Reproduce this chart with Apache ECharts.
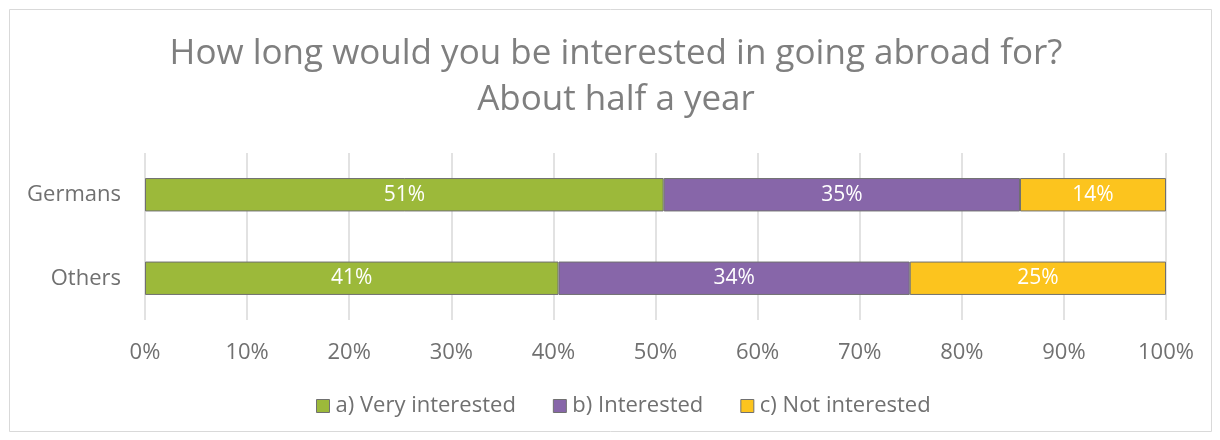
<!DOCTYPE html>
<html>
<head>
<meta charset="utf-8">
<title>How long would you be interested in going abroad for?</title>
<script src="https://cdn.jsdelivr.net/npm/echarts@6/dist/echarts.min.js"></script>
<style>
  html, body { margin: 0; padding: 0; background: #ffffff; }
  #chart { width: 1220px; height: 440px; }
</style>
</head>
<body>
<div id="chart"></div>
<script>
// Respondent groups (top to bottom)
const groups = ['Germans', 'Others'];

// Share of respondents per answer, in percent
const veryInterested = [50.8, 40.5];
const interested = [34.9, 34.4];
const notInterested = [14.3, 25.1];

const seriesNames = ['a) Very interested', 'b) Interested', 'c) Not interested'];
const seriesColors = ['#9cb93a', '#8766a9', '#fcc41e'];

const titleLines = ['How long would you be interested in going abroad for?', 'About half a year'];

const FONT = 'Open Sans, sans-serif';
const TEXT_GREY = '#707070';

const chart = echarts.init(document.getElementById('chart'), null, { renderer: 'canvas' });

function makeSeries(name, values, color) {
  return {
    name: name,
    type: 'bar',
    stack: 'total',
    barWidth: '40%',
    data: values,
    itemStyle: { color: color, borderColor: '#707070', borderWidth: 1 },
    label: {
      show: true,
      position: 'inside',
      color: '#ffffff',
      fontFamily: FONT,
      fontSize: 21,
      formatter: p => Math.round(p.value) + '%'
    },
    emphasis: { disabled: true }
  };
}

chart.setOption({
  backgroundColor: '#ffffff',
  animation: false,
  graphic: [{
    type: 'rect',
    shape: { x: 9.5, y: 9.5, width: 1202, height: 422 },
    style: { fill: 'none', stroke: '#d9d9d9', lineWidth: 1 },
    silent: true
  }],
  title: {
    text: titleLines.join('\n'),
    left: 611,
    textAlign: 'center',
    top: 26,
    textStyle: {
      fontFamily: FONT,
      fontWeight: 'normal',
      fontSize: 35,
      color: '#7f7f7f',
      lineHeight: 46
    }
  },
  legend: {
    data: seriesNames,
    left: 311,
    top: 390,
    itemWidth: 13,
    itemHeight: 13,
    itemGap: 37,
    icon: 'rect',
    itemStyle: { borderColor: '#707070', borderWidth: 1 },
    textStyle: { fontFamily: FONT, fontSize: 22, color: TEXT_GREY, padding: [0, 0, 0, 1] }
  },
  grid: { left: 145, right: 54, top: 153, height: 167, containLabel: false },
  xAxis: {
    type: 'value',
    min: 0,
    max: 100,
    interval: 10,
    axisLine: { show: false },
    axisTick: { show: false },
    splitLine: { show: true, lineStyle: { color: '#d9d9d9', width: 1.5 } },
    axisLabel: {
      formatter: '{value}%',
      fontFamily: FONT,
      fontSize: 22,
      color: TEXT_GREY,
      margin: 22
    }
  },
  yAxis: {
    type: 'category',
    data: groups,
    inverse: true,
    axisLine: { show: false },
    axisTick: { show: false },
    splitLine: { show: false },
    axisLabel: { fontFamily: FONT, fontSize: 22, color: TEXT_GREY, margin: 24 }
  },
  series: [
    makeSeries(seriesNames[0], veryInterested, seriesColors[0]),
    makeSeries(seriesNames[1], interested, seriesColors[1]),
    makeSeries(seriesNames[2], notInterested, seriesColors[2])
  ]
});
</script>
</body>
</html>
